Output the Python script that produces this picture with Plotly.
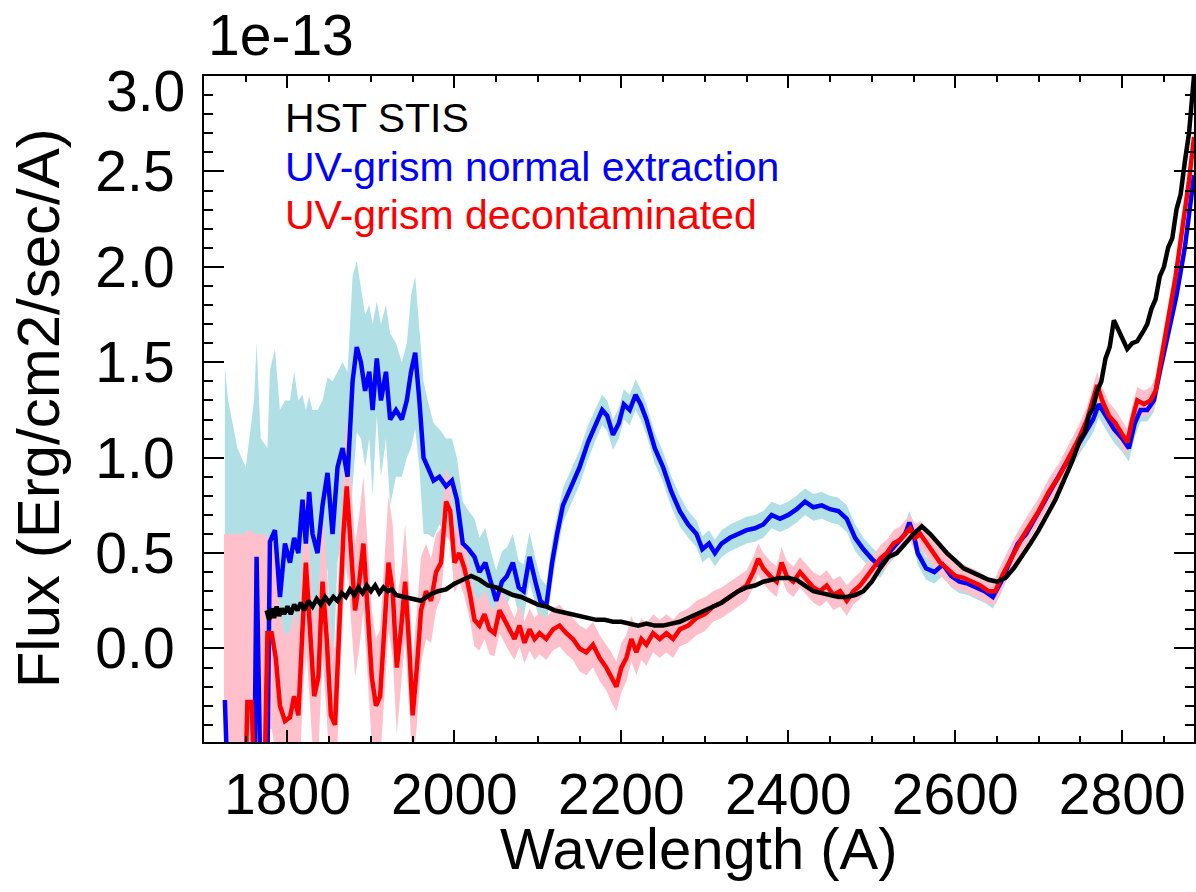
import plotly.graph_objects as go

# ---------------- data (flux in units of 1e-13 erg/cm2/s/A) ----------------
stis_wave = [1775, 1778, 1781, 1784, 1787, 1790, 1793, 1796, 1800, 1804, 1808, 1812, 1816, 1820, 1825,
             1830, 1835, 1840, 1845, 1850, 1855, 1860, 1865, 1870, 1875, 1880, 1885, 1890, 1895,
             1900, 1905, 1910, 1915, 1920, 1925, 1930, 1940, 1950, 1960, 1970, 1980, 1990, 2000, 2010,
             2020, 2030, 2040,
             2050, 2060, 2070, 2080, 2090, 2100, 2110, 2120, 2130, 2140, 2150, 2160, 2170, 2180, 2190,
             2200, 2210, 2220, 2230, 2240, 2250, 2260, 2270, 2280, 2290, 2300, 2310, 2320, 2330, 2340,
             2350, 2360, 2370, 2380, 2390, 2400, 2410, 2420, 2430, 2440, 2450, 2460, 2470, 2480, 2490,
             2500, 2510, 2520, 2530, 2540, 2550, 2560, 2565, 2570, 2580, 2590, 2600, 2610, 2620, 2630,
             2640, 2650, 2660, 2670, 2680, 2690, 2700, 2710, 2720, 2730, 2740, 2750, 2755, 2760, 2765,
             2770, 2775, 2780, 2785, 2790, 2800, 2806, 2812, 2818, 2825, 2830, 2835, 2840, 2845, 2850,
             2855, 2860, 2865, 2870, 2875, 2880, 2886]
stis_flux = [0.20, 0.15, 0.21, 0.16, 0.22, 0.17, 0.21, 0.18, 0.22, 0.18, 0.23, 0.20, 0.24, 0.20, 0.25,
             0.22, 0.26, 0.23, 0.27, 0.24, 0.27, 0.25, 0.29, 0.27, 0.31, 0.28, 0.32, 0.29, 0.33,
             0.30, 0.33, 0.29, 0.32, 0.30, 0.31, 0.28, 0.27, 0.26, 0.25, 0.28, 0.30, 0.31, 0.34, 0.36,
             0.38, 0.36, 0.33,
             0.32, 0.30, 0.28, 0.27, 0.25, 0.23, 0.22, 0.20, 0.19, 0.18, 0.17, 0.16, 0.15, 0.15, 0.14,
             0.14, 0.13, 0.12, 0.13, 0.12, 0.12, 0.13, 0.14, 0.16, 0.18, 0.20, 0.22, 0.24, 0.27, 0.30,
             0.32, 0.33, 0.35, 0.36, 0.37, 0.37, 0.36, 0.33, 0.30, 0.29, 0.28, 0.27, 0.27, 0.28, 0.30,
             0.35, 0.42, 0.48, 0.50, 0.55, 0.60, 0.64, 0.62, 0.60, 0.55, 0.50, 0.46, 0.42, 0.40, 0.38,
             0.36, 0.35, 0.37, 0.42, 0.48, 0.55, 0.62, 0.70, 0.78, 0.88, 0.98, 1.10, 1.13, 1.22, 1.26,
             1.35, 1.40, 1.52, 1.58, 1.72, 1.62, 1.57, 1.60, 1.61, 1.66, 1.70, 1.78, 1.83, 1.95, 2.00,
             2.10, 2.15, 2.30, 2.38, 2.55, 2.70, 3.00]

norm_wave = [1725, 1729, 1740, 1750, 1760, 1763, 1768, 1776, 1779, 1785, 1791, 1797, 1803, 1808, 1813,
             1818, 1822,
             1826, 1830, 1836, 1842, 1848, 1854, 1860, 1866, 1872, 1878, 1883, 1888, 1893, 1898, 1902,
             1907, 1912, 1918, 1923, 1930, 1937, 1943, 1948, 1953, 1958, 1963, 1968, 1975, 1982, 1990,
             1997, 2003, 2010, 2017, 2024, 2030, 2037, 2043, 2050, 2057, 2063, 2070, 2077, 2083, 2090,
             2097, 2103, 2110, 2117, 2123, 2130, 2140, 2150, 2160, 2170, 2177, 2183, 2190, 2197, 2203,
             2210, 2217, 2223, 2230, 2240, 2250, 2260, 2270, 2280, 2290, 2297, 2305, 2312, 2320, 2330,
             2340, 2350, 2360, 2370, 2380, 2390, 2400, 2410, 2420, 2430, 2440, 2450, 2460, 2470, 2480,
             2490, 2500, 2510, 2520, 2530, 2540, 2545, 2550, 2555, 2565, 2575, 2585, 2595, 2605, 2615,
             2625, 2635, 2645, 2655, 2665, 2675, 2685, 2700, 2715, 2730, 2745, 2755, 2765, 2772, 2780,
             2790, 2800, 2808, 2815, 2822, 2830, 2838, 2845, 2855, 2865, 2875, 2886]
norm_flux = [-0.27, -0.80, -0.80, -0.80, -0.80, 0.48, -0.80, -0.60, 0.56, 0.62, 0.27, 0.55, 0.45, 0.58, 0.50,
             0.78, 0.55,
             0.82, 0.60, 0.50, 0.75, 0.92, 0.60, 0.95, 1.05, 0.90, 1.40, 1.58, 1.50, 1.35, 1.45, 1.25,
             1.52, 1.30, 1.45, 1.20, 1.25, 1.20, 1.30, 1.45, 1.55, 1.30, 1.00, 0.95, 0.88, 0.90, 0.85,
             0.88, 0.78, 0.55, 0.52, 0.48, 0.40, 0.45, 0.35, 0.25, 0.35, 0.38, 0.45, 0.32, 0.30, 0.48,
             0.35, 0.25, 0.22, 0.45, 0.60, 0.75, 0.85, 0.95, 1.08, 1.18, 1.25, 1.22, 1.12, 1.18, 1.28,
             1.25, 1.33, 1.28, 1.20, 1.05, 0.95, 0.82, 0.72, 0.65, 0.60, 0.52, 0.55, 0.50, 0.55, 0.58,
             0.60, 0.62, 0.63, 0.65, 0.70, 0.68, 0.70, 0.73, 0.77, 0.74, 0.75, 0.73, 0.72, 0.68, 0.58,
             0.52, 0.47, 0.43, 0.50, 0.55, 0.60, 0.66, 0.60, 0.50, 0.42, 0.40, 0.44, 0.38, 0.35, 0.34,
             0.32, 0.30, 0.27, 0.35, 0.45, 0.55, 0.60, 0.72, 0.83, 0.95, 1.05, 1.12, 1.20, 1.28, 1.22,
             1.15, 1.10, 1.05, 1.18, 1.25, 1.25, 1.30, 1.45, 1.65, 1.85, 2.10, 2.48]
norm_err = [1.74, 2.10, 1.85, 1.75, 2.10, 1.12, 1.90, 1.65, 0.90, 0.95, 0.98, 0.75, 0.85, 0.87, 0.80,
            0.55, 0.70,
            0.50, 0.65, 0.75, 0.55, 0.50, 0.80, 0.50, 0.45, 0.55, 0.55, 0.45, 0.40, 0.40, 0.35, 0.45,
            0.30, 0.40, 0.35, 0.45, 0.35, 0.30, 0.30, 0.40, 0.40, 0.35, 0.40, 0.35, 0.30, 0.25, 0.25,
            0.22, 0.22, 0.22, 0.20, 0.20, 0.18, 0.18, 0.17, 0.16, 0.16, 0.15, 0.15, 0.14, 0.14, 0.13,
            0.12, 0.12, 0.11, 0.11, 0.10, 0.09, 0.09, 0.09, 0.09, 0.08, 0.08, 0.08, 0.08, 0.08, 0.08,
            0.08, 0.08, 0.08, 0.08, 0.08, 0.08, 0.08, 0.08, 0.07, 0.07, 0.07, 0.07, 0.07, 0.07, 0.07,
            0.07, 0.07, 0.07, 0.07, 0.07, 0.07, 0.07, 0.07, 0.07, 0.07, 0.07, 0.07, 0.07, 0.07, 0.07,
            0.06, 0.06, 0.06, 0.06, 0.06, 0.06, 0.06, 0.06, 0.06, 0.06, 0.06, 0.06, 0.06, 0.06, 0.06,
            0.06, 0.06, 0.06, 0.06, 0.06, 0.06, 0.06, 0.06, 0.06, 0.06, 0.06, 0.06, 0.07, 0.07, 0.07,
            0.07, 0.07, 0.07, 0.07, 0.06, 0.06, 0.06, 0.06, 0.06, 0.06, 0.06, 0.06]

dec_wave = [1724, 1749, 1752, 1757, 1761, 1772, 1776, 1781, 1786, 1791, 1797, 1803, 1808, 1813, 1818,
            1822, 1827, 1832, 1837, 1842, 1847, 1852, 1857, 1862, 1867, 1871, 1876, 1881, 1886, 1891,
            1896, 1901, 1906, 1911, 1916, 1921, 1926, 1931, 1936, 1941, 1946, 1950, 1955, 1960, 1966,
            1972, 1978, 1984, 1990, 1995, 2000, 2006, 2012, 2018, 2024, 2030, 2036, 2042, 2048, 2054,
            2060, 2066, 2072, 2078, 2084, 2090, 2096, 2102, 2110, 2118, 2126, 2134, 2142, 2150, 2158,
            2166, 2174, 2182, 2188, 2194, 2200, 2206, 2212, 2218, 2224, 2230, 2238, 2246, 2254, 2262,
            2270, 2280, 2290, 2300, 2310, 2320, 2330, 2340, 2350, 2358, 2364, 2370, 2378, 2386, 2392,
            2398, 2406, 2414, 2422, 2430, 2438, 2446, 2454, 2462, 2470, 2478, 2486, 2494, 2502, 2510,
            2518, 2526, 2534, 2540, 2546, 2552, 2558, 2566, 2574, 2582, 2590, 2600, 2610, 2620, 2630,
            2640, 2648, 2656, 2664, 2672, 2680, 2690, 2700, 2712, 2724, 2736, 2748, 2758, 2766, 2770,
            2776, 2784, 2792, 2800, 2806, 2812, 2818, 2826, 2834, 2840, 2848, 2856, 2864, 2872, 2880,
            2886]
dec_flux = [-0.90, -0.80, -0.28, -0.28, -0.80, -0.80, 0.08, 0.08, -0.05, -0.30, -0.38, -0.36, -0.25, -0.35, 0.10,
            0.45, 0.10, -0.25, -0.15, 0.35, 0.05, -0.35, -0.40, 0.10, 0.60, 0.85, 0.50, 0.20, 0.35, 0.55,
            0.20, -0.15, -0.30, -0.25, 0.10, 0.45, 0.30, -0.10, 0.10, 0.35, 0.00, -0.35, -0.10, 0.20, 0.30,
            0.25, 0.40, 0.45, 0.77, 0.72, 0.45, 0.50, 0.42, 0.30, 0.15, 0.12, 0.18, 0.10, 0.08, 0.20,
            0.15, 0.10, 0.05, 0.12, 0.03, 0.10, 0.05, 0.08, 0.05, 0.10, 0.12, 0.08, 0.05, 0.00, -0.02,
            0.02, -0.05, -0.10, -0.15, -0.20, -0.10, -0.05, 0.05, -0.02, 0.05, 0.02, 0.08, 0.05, 0.08, 0.05,
            0.10, 0.12, 0.16, 0.18, 0.22, 0.24, 0.27, 0.30, 0.33, 0.40, 0.47, 0.42, 0.38, 0.35, 0.45,
            0.38, 0.35, 0.40, 0.36, 0.32, 0.30, 0.33, 0.28, 0.30, 0.25, 0.30, 0.33, 0.38, 0.42, 0.47,
            0.50, 0.55, 0.57, 0.60, 0.63, 0.58, 0.60, 0.55, 0.50, 0.45, 0.42, 0.38, 0.37, 0.35, 0.33,
            0.30, 0.30, 0.38, 0.45, 0.52, 0.58, 0.65, 0.72, 0.82, 0.90, 1.00, 1.10, 1.20, 1.32, 1.38,
            1.30, 1.22, 1.18, 1.12, 1.08, 1.20, 1.30, 1.28, 1.30, 1.35, 1.55, 1.75, 1.95, 2.20, 2.45,
            2.68]
dec_err = [1.50, 1.40, 0.90, 0.90, 1.40, 1.40, 0.50, 0.50, 0.50, 0.50, 0.45, 0.45, 0.45, 0.45, 0.40,
           0.40, 0.40, 0.40, 0.40, 0.40, 0.40, 0.40, 0.40, 0.40, 0.35, 0.35, 0.35, 0.35, 0.35, 0.35,
           0.35, 0.35, 0.35, 0.35, 0.35, 0.35, 0.35, 0.35, 0.30, 0.30, 0.30, 0.30, 0.30, 0.28, 0.25,
           0.22, 0.20, 0.18, 0.18, 0.16, 0.16, 0.15, 0.15, 0.14, 0.14, 0.13, 0.13, 0.13, 0.12, 0.12,
           0.12, 0.12, 0.11, 0.11, 0.11, 0.11, 0.11, 0.11, 0.11, 0.11, 0.11, 0.11, 0.11, 0.12, 0.12,
           0.12, 0.12, 0.12, 0.13, 0.13, 0.13, 0.12, 0.12, 0.12, 0.11, 0.11, 0.10, 0.10, 0.10, 0.10,
           0.09, 0.09, 0.09, 0.09, 0.08, 0.08, 0.08, 0.08, 0.08, 0.08, 0.08, 0.08, 0.08, 0.08, 0.08,
           0.08, 0.08, 0.08, 0.08, 0.08, 0.08, 0.08, 0.08, 0.08, 0.08, 0.07, 0.07, 0.07, 0.07, 0.07,
           0.07, 0.07, 0.07, 0.07, 0.07, 0.07, 0.07, 0.07, 0.07, 0.07, 0.07, 0.07, 0.07, 0.07, 0.07,
           0.07, 0.07, 0.07, 0.07, 0.07, 0.07, 0.07, 0.07, 0.07, 0.07, 0.07, 0.07, 0.07, 0.07, 0.07,
           0.07, 0.07, 0.07, 0.07, 0.07, 0.07, 0.07, 0.07, 0.07, 0.07, 0.07, 0.07, 0.07, 0.07, 0.07,
           0.07]

x_tick_vals = [1800, 2000, 2200, 2400, 2600, 2800]
y_tick_vals = [0.0, 0.5, 1.0, 1.5, 2.0, 2.5, 3.0]
y_tick_text = ["0.0", "0.5", "1.0", "1.5", "2.0", "2.5", ""]
legend_labels = ["HST STIS", "UV-grism normal extraction", "UV-grism decontaminated"]
legend_colors = ["black", "#0000FF", "#FF0000"]

# ---------------- figure ----------------
FONT = "Liberation Sans, Arial, sans-serif"
W, H = 1196, 892
L, R, T, B = 204, 0, 76, 150
PW, PH = W - L - R, H - T - B


def band(xs, ys, es, color):
    up = [y + e for y, e in zip(ys, es)]
    lo = [y - e for y, e in zip(ys, es)]
    return go.Scatter(x=list(xs) + list(xs)[::-1], y=up + lo[::-1], fill="toself",
                      fillcolor=color, line=dict(width=0), mode="lines",
                      hoverinfo="skip", showlegend=False)


fig = go.Figure()
fig.add_trace(band(norm_wave, norm_flux, norm_err, "#B0E0E6"))
fig.add_trace(band(dec_wave, dec_flux, dec_err, "#FFC0CB"))
fig.add_trace(go.Scatter(x=norm_wave, y=norm_flux, mode="lines",
                         line=dict(color="#0000FF", width=4.5), showlegend=False))
fig.add_trace(go.Scatter(x=dec_wave, y=dec_flux, mode="lines",
                         line=dict(color="#FF0000", width=4.5), showlegend=False))
fig.add_trace(go.Scatter(x=stis_wave, y=stis_flux, mode="lines",
                         line=dict(color="black", width=4.5), showlegend=False))

axis_common = dict(showline=True, linecolor="black", linewidth=2, mirror="ticks",
                   ticks="inside", tickcolor="black", tickwidth=2, showgrid=False,
                   zeroline=False, tickfont=dict(family=FONT, size=57, color="black"))

fig.update_xaxes(range=[1700, 2886], tickmode="array", tickvals=x_tick_vals, ticklen=12,
                 minor=dict(dtick=50, tick0=1700, ticks="inside", ticklen=6, tickwidth=1.5,
                            tickcolor="black", showgrid=False),
                 ticklabelstandoff=2, **axis_common)
fig.update_yaxes(range=[-0.49, 3.0], tickmode="array", tickvals=y_tick_vals, ticktext=y_tick_text,
                 ticklen=20,
                 minor=dict(dtick=0.1, tick0=0.0, ticks="inside", ticklen=9, tickwidth=1.5,
                            tickcolor="black", showgrid=False),
                 ticklabelstandoff=16, **axis_common)


def px2paper(px, py):
    return (px - L) / PW, (H - B - py) / PH


anns = []
# "3.0" label sits slightly below the top tick in the reference
ax_, ay_ = px2paper(187, 91)
anns.append(dict(x=ax_, y=ay_, xref="paper", yref="paper", text="3.0", showarrow=False,
                 xanchor="right", yanchor="middle", font=dict(family=FONT, size=57, color="black")))
# exponent
ax_, ay_ = px2paper(206, 35)
anns.append(dict(x=ax_, y=ay_, xref="paper", yref="paper", text="1e-13", showarrow=False,
                 xanchor="left", yanchor="middle", font=dict(family=FONT, size=57, color="black")))
# axis titles
ax_, ay_ = px2paper(700, 848)
anns.append(dict(x=ax_, y=ay_, xref="paper", yref="paper", text="Wavelength (A)", showarrow=False,
                 xanchor="center", yanchor="middle", font=dict(family=FONT, size=58, color="black")))
ax_, ay_ = px2paper(38, 408)
anns.append(dict(x=ax_, y=ay_, xref="paper", yref="paper", text="Flux (Erg/cm2/sec/A)",
                 showarrow=False, textangle=-90, xanchor="center", yanchor="middle",
                 font=dict(family=FONT, size=60, color="black")))
# legend texts
for i, (lab, col) in enumerate(zip(legend_labels, legend_colors)):
    ax_, ay_ = px2paper(283, 118 + 48.5 * i)
    anns.append(dict(x=ax_, y=ay_, xref="paper", yref="paper", text=lab, showarrow=False,
                     xanchor="left", yanchor="middle", font=dict(family=FONT, size=41, color=col)))

fig.update_layout(width=W, height=H, margin=dict(l=L, r=R, t=T, b=B, pad=0),
                  paper_bgcolor="white", plot_bgcolor="white", showlegend=False,
                  annotations=anns)

fig.write_html("out.html")
